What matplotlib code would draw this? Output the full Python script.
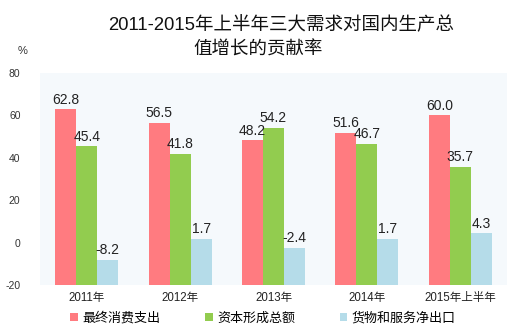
import matplotlib
matplotlib.use("Agg")
import matplotlib.pyplot as plt
import numpy as np

plt.rcParams['font.family'] = ['Liberation Sans', 'Noto Sans CJK SC', 'DejaVu Sans']

categories = ["2011年", "2012年", "2013年", "2014年", "2015年上半年"]
series_names = ["最终消费支出", "资本形成总额", "货物和服务净出口"]
consumption = [62.8, 56.5, 48.2, 51.6, 60.0]
capital = [45.4, 41.8, 54.2, 46.7, 35.7]
net_export = [-8.2, 1.7, -2.4, 1.7, 4.3]
yticks = [-20, 0, 20, 40, 60, 80]
colors = ["#FF7B80", "#92CC4F", "#B5DCE9"]

fig = plt.figure(figsize=(5.29, 3.33), dpi=100)
ax = fig.add_axes([40/529, 1-285/333, 467/529, 212/333])
ax.set_facecolor("#F5F9FC")

base = -20
x = np.arange(len(categories))
w = 0.225
for i, (vals, name, col) in enumerate(zip([consumption, capital, net_export], series_names, colors)):
    vals = np.array(vals)
    pos = x + (i - 1) * w
    ax.bar(pos, vals - base, bottom=base, width=w, color=col, label=name, linewidth=0)
    for p, v in zip(pos, vals):
        ax.annotate(f"{v:.1f}", (p, v), xytext=(0, 2), textcoords="offset points",
                    ha="center", va="bottom", fontsize=10, color="#222222")

ax.set_xlim(-0.5, len(categories) - 0.5)
ax.set_ylim(-20, 80)
ax.set_yticks(yticks)
ax.set_yticklabels([str(t) for t in yticks], fontsize=7.5, color="#333333")
ax.set_xticks(x)
ax.set_xticklabels(categories, fontsize=8.3, color="#222222")
ax.tick_params(length=0)
ax.tick_params(axis='y', pad=14)
ax.tick_params(axis='x', pad=5)
for s in ax.spines.values():
    s.set_visible(False)

fig.text(281/529, 1-25/333, "2011-2015年上半年三大需求对国内生产总", ha="center", va="center",
         fontsize=13.3, color="#111111")
fig.text(258/529, 1-50/333, "值增长的贡献率", ha="center", va="center",
         fontsize=13.3, color="#111111")
fig.text(23/529, 1-51/333, "%", ha="center", va="center", fontsize=8, color="#333333")

fig.legend(loc="center", bbox_to_anchor=(263/529, 1-318/333), ncol=3, frameon=False,
           fontsize=9.4, handlelength=0.6, handleheight=0.6, handletextpad=0.35,
           columnspacing=3.4, borderaxespad=0)

fig.savefig("out.png", dpi=100, facecolor="white")
